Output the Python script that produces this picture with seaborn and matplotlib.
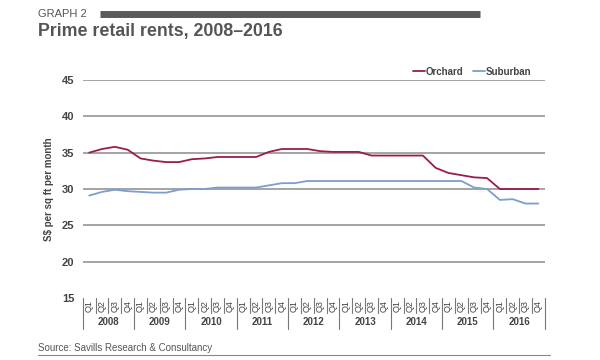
import numpy as np
import pandas as pd
import matplotlib.pyplot as plt
import seaborn as sns

years = ["2008", "2009", "2010", "2011", "2012", "2013", "2014", "2015", "2016"]
quarters = ["Q1", "Q2", "Q3", "Q4"]
orchard = [35.0, 35.5, 35.8, 35.4, 34.2, 33.9, 33.7, 33.7,
           34.1, 34.2, 34.4, 34.4, 34.4, 34.4, 35.1, 35.5,
           35.5, 35.5, 35.2, 35.1, 35.1, 35.1, 34.6, 34.6,
           34.6, 34.6, 34.6, 32.9, 32.2, 31.9, 31.6, 31.5,
           30.0, 30.0, 30.0, 30.0]
suburban = [29.1, 29.6, 29.9, 29.7, 29.6, 29.5, 29.5, 29.9,
            30.0, 30.0, 30.2, 30.2, 30.2, 30.2, 30.5, 30.8,
            30.8, 31.1, 31.1, 31.1, 31.1, 31.1, 31.1, 31.1,
            31.1, 31.1, 31.1, 31.1, 31.1, 31.1, 30.2, 30.0,
            28.5, 28.6, 28.0, 28.0]
yticks = [15, 20, 25, 30, 35, 40, 45]

sns.set_style("white")
plt.rcParams['font.family'] = ['Liberation Sans', 'DejaVu Sans']

n = len(orchard)
df = pd.DataFrame({
    "idx": list(range(n)) * 2,
    "rent": orchard + suburban,
    "market": ["Orchard"] * n + ["Suburban"] * n,
})

fig = plt.figure(figsize=(6, 3.6), dpi=100)
ax = fig.add_axes([0.138, 0.172, 0.77, 0.606])

for v in yticks[1:]:
    ax.axhline(v, color="#8c8c8c", lw=1.1, zorder=0)

sns.lineplot(data=df, x="idx", y="rent", hue="market",
             palette={"Orchard": "#9b1b4f", "Suburban": "#7d9dcf"},
             lw=1.3, ax=ax)

ax.set_xlim(-0.5, n - 0.5)
ax.set_ylim(15, 45)
ax.set_yticks(yticks)
ax.set_yticklabels([str(v) for v in yticks], fontsize=8, color="#444444", fontweight="bold")
ax.tick_params(axis="y", length=0, pad=6)
ax.set_xticks([])
ax.set_xlabel("")
ax.set_ylabel("S$ per sq ft per month", fontsize=7, color="#444444", fontweight="bold", labelpad=6)
for s in ax.spines.values():
    s.set_visible(False)

# category box under the axis
tr = ax.get_xaxis_transform()
for i in range(n + 1):
    yb = -0.14 if i % 4 == 0 else -0.07
    ax.plot([i - 0.5, i - 0.5], [0, yb], color="#777777", lw=0.8, transform=tr, clip_on=False)
for i in range(n):
    ax.text(i, -0.035, quarters[i % 4], rotation=90, ha="center", va="center",
            fontsize=6.5, color="#444444", transform=tr, rotation_mode="anchor")
for j, y in enumerate(years):
    ax.text(j * 4 + 1.5, -0.11, y, ha="center", va="center", fontsize=7,
            fontweight="bold", color="#444444", transform=tr)

leg = ax.legend(loc="upper right", bbox_to_anchor=(0.99, 1.1), ncol=2, frameon=False,
                fontsize=7, handlelength=1.2, handletextpad=0.1, columnspacing=1.0)
for t in leg.get_texts():
    t.set_fontweight("bold")
    t.set_color("#444444")

fig.text(0.063, 0.962, "GRAPH 2", fontsize=8, color="#555555", va="center")
fig.add_artist(plt.Line2D([0.167, 0.8], [0.962, 0.962], color="#5a5a5a", lw=5,
                          solid_capstyle="butt"))
fig.text(0.063, 0.912, "Prime retail rents, 2008\u20132016", fontsize=12.8,
         fontweight="bold", color="#555555", va="center")
fig.text(0.063, 0.032, "Source: Savills Research & Consultancy", fontsize=7,
         color="#555555", va="center")
fig.add_artist(plt.Line2D([0.063, 0.917], [0.015, 0.015], color="#888888", lw=0.8))

fig.savefig("out.png", dpi=100)
